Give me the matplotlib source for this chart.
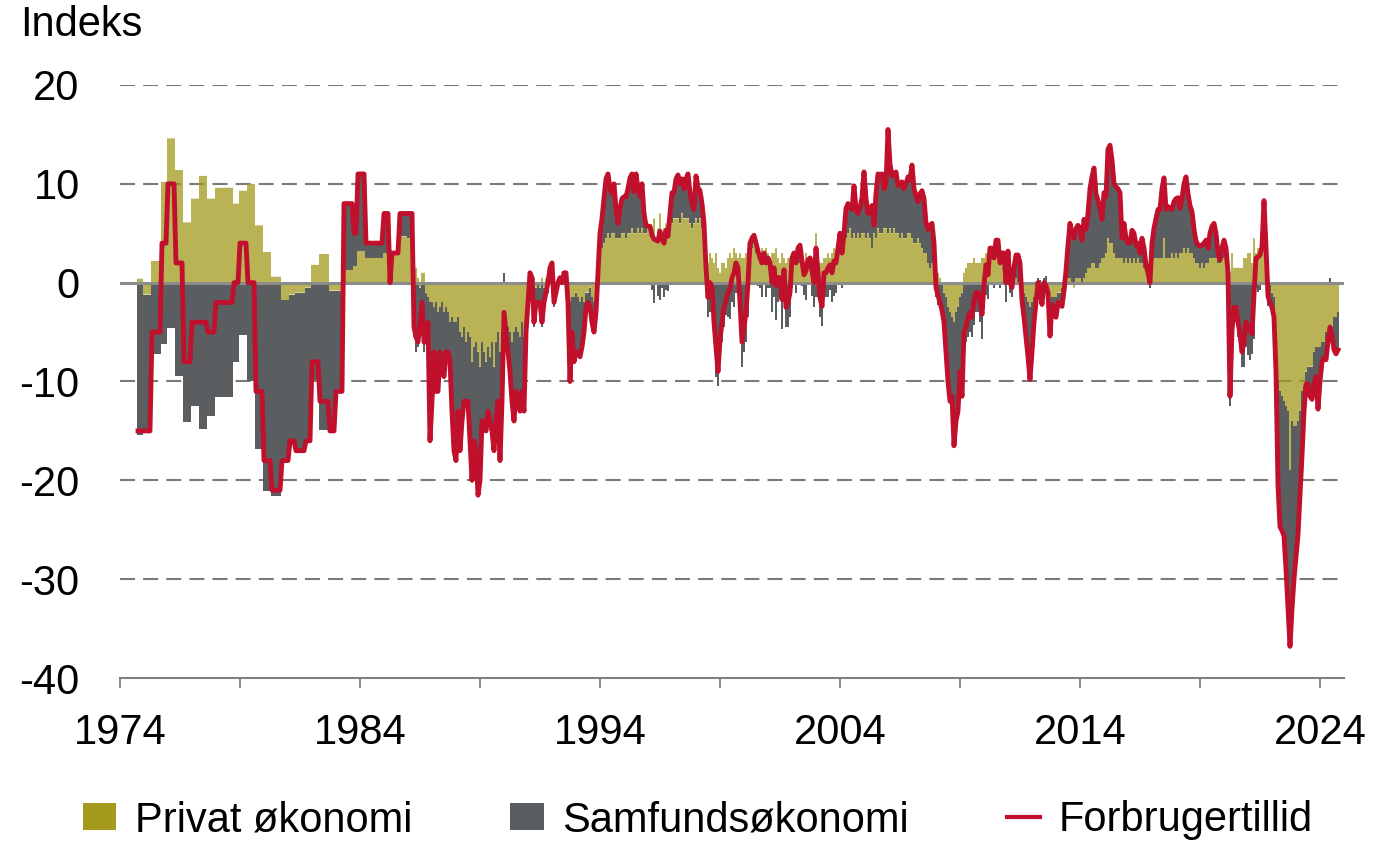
import numpy as np
import pandas as pd
import matplotlib
matplotlib.use('Agg')
import matplotlib.pyplot as plt
from matplotlib.patches import Patch
from matplotlib.lines import Line2D

plt.rcParams['font.family'] = ['Liberation Sans', 'DejaVu Sans']
plt.rcParams['axes.unicode_minus'] = False

# tidlige målinger (få gange om året) - værdien gælder til næste måling
early_months = ['1974-10', '1975-01', '1975-05', '1975-10', '1976-01', '1976-05', '1976-09',
                '1977-01', '1977-05', '1977-09', '1978-01', '1978-10', '1979-01', '1979-05',
                '1979-09', '1980-01', '1980-05', '1980-10', '1981-02', '1981-05', '1981-10',
                '1982-01', '1982-05', '1982-10', '1983-01', '1983-05', '1983-10', '1983-12',
                '1984-04', '1985-01', '1985-04', '1985-05', '1985-09']
early_total = [-15, -15, -5, 4, 10, 2, -8, -4, -4, -5, -2, 0, 4, 0, -11, -18, -21, -18, -16, -17,
               -16, -8, -12, -15, -11, 8, 5, 11, 4, 7, 0, 3, 7]
early_private = [0.4, -1.2, 2.2, 10.2, 14.6, 11.4, 6.1, 8.5, 10.8, 8.5, 9.6, 8.0, 9.3, 10, 5.8,
                 3.1, 0.6, -1.8, -1.2, -1, -0.5, 1.8, 2.9, -0.8, -0.8, 1.3, 1.7, 3.2, 2.5, 3, 0, 3, 4.7]

# månedlige tal fra jan 1986 til okt 2024
total_monthly = [
    7, 7, 7, -4.5, -5.5, -6, -4, -2, -6, -6, -4, -16,  # 1986
    -12, -7, -11, -11, -7, -9, -9.5, -7, -7, -8, -13, -17,  # 1987
    -18, -13, -17, -14, -12, -12, -12, -16, -20, -16, -17, -21.5,  # 1988
    -20, -14, -14, -15, -13, -14, -15, -17, -14, -12, -18, -12,  # 1989
    -3, -5, -7, -9, -12, -14, -11, -12, -13, -11, -13, -5,  # 1990
    -2, 1, 0.5, -4, -2, -2, -2, -4, -2, -1, 0, 1.5,  # 1991
    2, -2, -1, 0, 0.5, 0, 1, 1, -2, -10, -5, -8,  # 1992
    -7, -7, -7.5, -6.5, -5, -2.5, -2, -2.4, -4, -5, -3, 1,  # 1993
    5, 6.5, 8.5, 10.5, 11, 9.5, 9, 10, 7.5, 6, 7.5, 8.5,  # 1994
    8.7, 8.7, 9.5, 10.6, 11, 9.2, 11, 9.5, 8.7, 10, 7, 5.8,  # 1995
    5.7, 5.7, 4.8, 4.4, 4.3, 4.2, 5.2, 4.5, 4, 5.3, 4.7, 7,  # 1996
    9.1, 9.1, 10.5, 10.9, 10, 10.5, 9.5, 10.5, 11, 9.1, 8, 7.4,  # 1997
    10.8, 9.6, 9.3, 8, 6, 1.5, -1.5, 0, -0.4, -4, -6.5, -9,  # 1998
    -5.8, -4, -2.5, -1.8, -1, -0.7, 0.5, 1, 2, 1.5, -2, -6,  # 1999
    -4.5, -3, 0, 4, 4.5, 4.8, 4, 3.2, 2.5, 2, 3, 2,  # 2000
    2.5, 2, 0, 1.5, -0.3, 0.5, 0.5, -1.7, 1.3, -2.5, -2, -1,  # 2001
    2.5, 3, 2, 3.5, 3.8, 2.2, 0.8, 1.2, 2.3, 2.5, 1.2, 0,  # 2002
    3.5, 1, -1.5, -2.4, 1, 1, 1.5, 1.8, 1, 2.2, 2, 3.5,  # 2003
    5, 3, 5, 7.5, 8, 7.8, 7.4, 9.8, 7.5, 7, 7.5, 8.6,  # 2004
    11.2, 8.5, 7, 7.2, 7.8, 5.8, 9, 11, 10.9, 11, 9.5, 10,  # 2005
    15.5, 12, 10.8, 11, 11.2, 9.8, 10, 10.2, 9.5, 10, 10.7, 10.4,  # 2006
    11.9, 9.5, 8.8, 8.2, 9, 9.3, 8.5, 6, 5.4, 5.8, 6, 4,  # 2007
    -0.5, -1.3, -2, -2.8, -4, -7, -10, -12, -11.5, -16.5, -14, -13,  # 2008
    -9, -11.5, -5, -4.5, -3.5, -3, -3.5, -1.8, -1, -1, -2, -3.2,  # 2009
    -0.2, 1.8, 0.8, 3.5, 3.5, 2.5, 4.3, 4.3, 2, 3, 3, 0,  # 2010
    3.2, 0, -0.5, 1.5, 2.8, 2.8, 2, -1.8, -3.5, -5.5, -7.5, -9.8,  # 2011
    -7, -4, -2, 0, -0.7, -2.2, 0, -0.3, -1, -5.4, -2.2, -3.2,  # 2012
    -3.5, -2, -2.2, -2.4, -0.8, 1.2, 3.8, 6, 4.8, 4.5, 5.5, 5.8,  # 2013
    5.5, 4.3, 6.4, 5.4, 7, 9.5, 10.7, 11.6, 9, 8.3, 7.5, 6.4,  # 2014
    9.1, 8.7, 13.5, 13.9, 12.4, 10, 9.7, 9.5, 9.1, 4.5, 6, 4.5,  # 2015
    4, 4, 5.3, 5, 3.8, 4, 3, 4.5, 3.5, 1.8, 1, 0,  # 2016
    4, 5.5, 6.5, 7.4, 7.4, 9.5, 10.6, 7.4, 7.7, 7.5, 7.4, 8.2,  # 2017
    8.5, 8.6, 7.5, 8.5, 10, 10.7, 9, 7.8, 7.2, 5.4, 4.2, 3.8,  # 2018
    3.7, 3.8, 4, 4.3, 3.5, 5, 5.7, 6, 5, 3, 2.3, 3.5,  # 2019
    4.3, 3.5, 1, -11.5, -4.8, -2.5, -2.5, -4, -5.2, -7, -6, -4,  # 2020
    -4.3, -4.8, -5.2, -1.2, 2.5, 2.6, 2.8, 3.6, 8.3, 3.6, -1.4, -2,  # 2021
    -2.5, -3.5, -9, -20.5, -24.7, -25.1, -25.6, -29, -33, -36.8, -33, -30,  # 2022
    -27.7, -25.5, -21.5, -17.5, -13, -10.3, -10.2, -11.5, -11.8, -10.3, -9.5, -12.8,  # 2023
    -10, -8, -7.6, -7.8, -6, -4.5, -5.3, -6.8, -7.2, -6.8,  # 2024
]
private_monthly = [
    4.5, 4.5, 4.5, 1, 1.5, 0.5, -0.5, 1, 1, -1, -1.5, -2,  # 1986
    -2, -2.5, -2, -3, -2.5, -2, -3, -2.5, -3, -4, -3.5, -4,  # 1987
    -4, -3.5, -5, -5.5, -4.5, -6, -5, -5.5, -8, -6.5, -6, -7,  # 1988
    -8.5, -6, -7, -8, -6.5, -7.5, -6, -8.5, -6, -5, -7, -5,  # 1989
    -4, -3.5, -4.5, -5, -6, -5, -4.5, -5, -5.5, -4, -5.5, -3,  # 1990
    -1.5, 0.5, 1, 0.5, -0.5, 0, -0.5, 0.5, -0.5, 0.5, 1, 1,  # 1991
    1.5, 0.5, 0, 0.5, 0.5, 0, 0.5, 0.5, -0.5, -2, -1.5, -1.5,  # 1992
    -1, -1.5, -2, -1.5, -2, -1, -1, -0.5, -1.5, -2, -1, 0.5,  # 1993
    2.5, 3.5, 4, 4.5, 5, 4.5, 5, 5, 4.5, 4.5, 4.5, 5,  # 1994
    5, 4.5, 5, 5, 5.5, 5, 5, 5.5, 5, 5.5, 5, 5,  # 1995
    5.5, 5, 5.5, 6.5, 4.5, 5.5, 7, 5, 5.5, 6, 5.5, 6,  # 1996
    6, 6.5, 6.5, 6.5, 6, 7, 6.5, 6.5, 6.5, 6, 5.5, 6,  # 1997
    6.5, 6, 6.5, 5.5, 5, 2.5, 2, 3, 2.5, 2, 3, 1.5,  # 1998
    1, 2, 2, 1.5, 2.5, 3, 2.5, 3.5, 3, 2.5, 3, 2.5,  # 1999
    2.5, 3, 3.5, 4, 3.5, 4, 3, 3.5, 3, 3.5, 3, 3.5,  # 2000
    3, 2.5, 3, 3, 3.5, 2.5, 2, 3, 2.5, 2, 2.5, 2.5,  # 2001
    3, 2.5, 3, 2.5, 2, 2.5, 2, 3, 2.5, 2, 2.5, 2.5,  # 2002
    5, 2.5, 2, 2, 2.5, 2.5, 3, 2.5, 3, 3.5, 3, 3.5,  # 2003
    4, 3.5, 4, 4.5, 5, 5.5, 4.5, 5, 4.5, 5, 4.5, 5,  # 2004
    5, 4.5, 5, 4.5, 3.5, 5, 4.5, 5.5, 5, 5, 5.5, 5.5,  # 2005
    5, 5.5, 5, 5.5, 5, 5, 4.5, 5, 4.5, 4.5, 5, 5,  # 2006
    4.5, 4, 4, 4.5, 4, 3.5, 3, 3, 2, 1.5, 2, 1.5,  # 2007
    1, 1, 0.5, 0, -1, -1.5, -2.5, -3, -3.5, -4, -3, -2.5,  # 2008
    -1.5, -1, 1, 1.5, 2, 2, 2, 2.5, 2, 2, 2, 2.5,  # 2009
    2.5, 3, 2.5, 3.5, 3, 3, 3, 3.5, 2.5, 3, 2.5, 2,  # 2010
    1.5, 1, 1, 0.5, 0.5, 0, 0, -0.5, -1, -1.5, -2, -2.5,  # 2011
    -2, -1.5, -1, -0.5, -1, -1.5, -0.5, -1, -1, -2, -1.5, -1.5,  # 2012
    -1.5, -1, -1, -0.5, 0, -0.5, 0.5, 0.5, 0, -0.5, 0.5, 0.5,  # 2013
    0.5, 0, 0.5, 1, 1.5, 1.5, 2, 2, 1.5, 1.5, 2, 2.5,  # 2014
    2.5, 3, 4.5, 4, 4, 3, 2.5, 2.5, 2.5, 2.5, 2, 2.5,  # 2015
    2, 2.5, 2, 2.5, 2, 2.5, 2, 2, 1.5, 1.5, 1, 0.5,  # 2016
    2, 2.5, 2.5, 2.5, 2.5, 2.5, 4.5, 2.5, 2.5, 2.5, 3, 2.5,  # 2017
    3, 2.5, 3, 3, 3.5, 3, 3.5, 3, 3, 2.5, 2, 2,  # 2018
    1.5, 2, 1.5, 2, 2, 2.5, 2.5, 2.5, 2.5, 2, 2, 2.5,  # 2019
    2.5, 2.5, 2, 1, 3, 1.5, 1.5, 1.5, 1.5, 1.5, 2.5, 2.5,  # 2020
    3, 3, 2, 4.5, 3, 3.5, 3.5, 3, 4, 3, 1, 0,  # 2021
    -1, -1.5, -7, -10, -11, -11.5, -12, -12.5, -13, -19, -14, -14.5,  # 2022
    -14.5, -14, -13, -11, -10.5, -9, -8.5, -8.5, -8.5, -7, -6.5, -6.5,  # 2023
    -6.5, -6, -6, -5, -5, -5, -4.5, -3.5, -3.5, -3,  # 2024
]

# saml til én månedsserie
m_early = pd.period_range('1974-10', '1985-12', freq='M')
idx_early = pd.PeriodIndex(early_months, freq='M')
tot_e = pd.Series(early_total, index=idx_early).reindex(m_early).ffill()
priv_e = pd.Series(early_private, index=idx_early).reindex(m_early).ffill()
m_late = pd.period_range('1986-01', periods=len(total_monthly), freq='M')
tot = pd.concat([tot_e, pd.Series(total_monthly, index=m_late, dtype=float)])
priv = pd.concat([priv_e, pd.Series(private_monthly, index=m_late, dtype=float)])
samf = tot - priv

x = np.array([p.year + (p.month - 1) / 12 for p in tot.index])
same_sign = np.sign(samf.values) == np.sign(priv.values)
samf_bottom = np.where(same_sign, priv.values, 0)

olive = '#a39a1e'
grey = '#5b5e61'
red = '#c0102b'

fig = plt.figure(figsize=(13.73, 8.43), dpi=100)
ax = fig.add_axes([120 / 1373, 1 - 678 / 843, 1224 / 1373, 593 / 843])

olive_bars = ax.bar(x, priv.values, width=0.75 / 12, color=olive, linewidth=0, zorder=2)
for b in olive_bars:
    b.set_snap(False)
ax.bar(x, samf.values, bottom=samf_bottom, width=1.08 / 12, color=grey, linewidth=0, zorder=2)
ax.axhline(0, color='#8c8c8c', lw=2.2, zorder=3)
ax.plot(x, tot.values, color=red, lw=3.5, zorder=4, solid_joinstyle='round')

ax.set_xlim(1974, 2025)
ax.set_ylim(-40, 20)
for y in [-30, -20, -10, 10, 20]:
    ax.axhline(y, color='#7a7a7a', lw=1.5, linestyle=(0, (7.2, 3.9)), zorder=0)

ax.set_yticks(range(-40, 21, 10))
ax.set_yticklabels([str(v) for v in range(-40, 21, 10)], fontsize=30)
ax.tick_params(axis='y', length=0, pad=29)
xt = list(range(1974, 2025, 5))
ax.set_xticks(xt)
ax.set_xticklabels([str(v) if (v - 1974) % 10 == 0 else '' for v in xt], fontsize=30)
ax.tick_params(axis='x', length=7, width=1.3, color='#808080', pad=18, direction='out')

for s in ['top', 'right', 'left']:
    ax.spines[s].set_visible(False)
ax.spines['bottom'].set_color('#808080')
ax.spines['bottom'].set_linewidth(1.5)

fig.text(20 / 1373, 1 - 25 / 843, 'Indeks', fontsize=30, va='center', ha='left')

handles = [Patch(facecolor=olive, edgecolor='none'),
           Patch(facecolor=grey, edgecolor='none'),
           Line2D([0], [0], color=red, lw=3)]
fig.legend(handles, ['Privat økonomi', 'Samfundsøkonomi', 'Forbrugertillid'],
           loc='center', bbox_to_anchor=(698 / 1373, 1 - 820 / 843), ncol=3, frameon=False,
           fontsize=30, handlelength=0.8, handleheight=0.6, handletextpad=0.45,
           columnspacing=2.35, borderaxespad=0)

fig.savefig('out.png', dpi=100)
